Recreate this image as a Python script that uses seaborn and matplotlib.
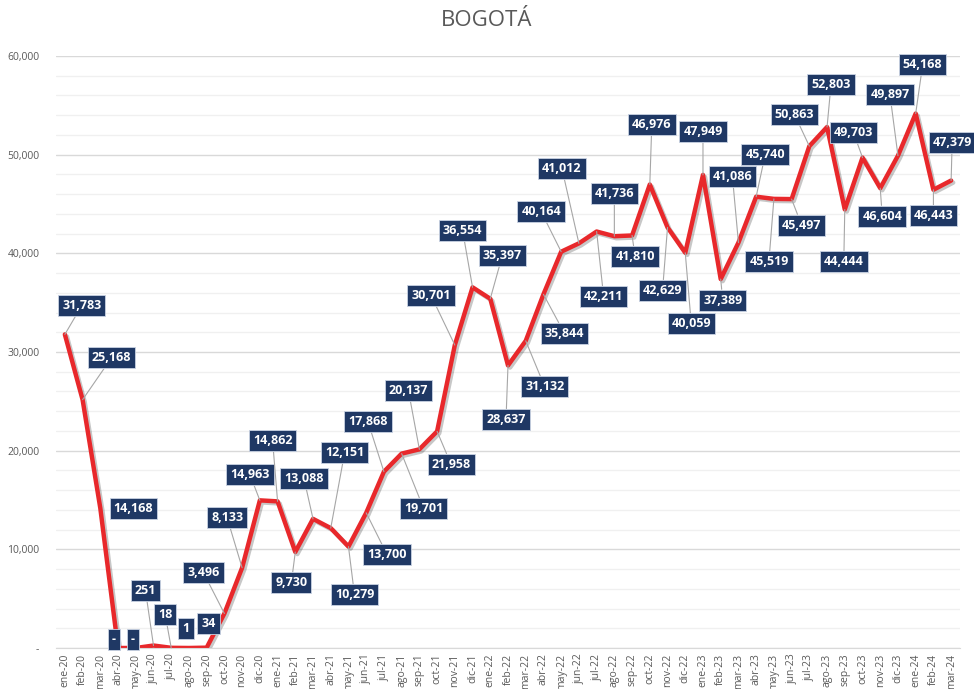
import numpy as np
import pandas as pd
import matplotlib
matplotlib.use("Agg")
import matplotlib.pyplot as plt
import matplotlib.patheffects as pe
from matplotlib.ticker import FuncFormatter, MultipleLocator
import seaborn as sns

months = ["ene-20", "feb-20", "mar-20", "abr-20", "may-20", "jun-20", "jul-20", "ago-20", "sep-20", "oct-20", "nov-20", "dic-20",
          "ene-21", "feb-21", "mar-21", "abr-21", "may-21", "jun-21", "jul-21", "ago-21", "sep-21", "oct-21", "nov-21", "dic-21",
          "ene-22", "feb-22", "mar-22", "abr-22", "may-22", "jun-22", "jul-22", "ago-22", "sep-22", "oct-22", "nov-22", "dic-22",
          "ene-23", "feb-23", "mar-23", "abr-23", "may-23", "jun-23", "jul-23", "ago-23", "sep-23", "oct-23", "nov-23", "dic-23",
          "ene-24", "feb-24", "mar-24"]
values = [31783, 25168, 14168, 0, 0, 251, 18, 1, 34, 3496, 8133, 14963,
          14862, 9730, 13088, 12151, 10279, 13700, 17868, 19701, 20137, 21958, 30701, 36554,
          35397, 28637, 31132, 35844, 40164, 41012, 42211, 41736, 41810, 46976, 42629, 40059,
          47949, 37389, 41086, 45740, 45519, 45497, 50863, 52803, 44444, 49703, 46604, 49897,
          54168, 46443, 47379]

# where each value box sits relative to its point (pixels)
label_offsets = [(17, 29), (29, 42), (33, 0), (-4, 9), (-3, 9), (-8, 55), (-6, 33), (-3, 19), (2, 24), (-21, 41),
                 (-15, 50), (-10, 26), (-5, 61), (-4, -31), (-9, 40), (14, 76), (6, -48), (21, -42), (-16, 50), (22, -55),
                 (-11, 59), (14, -33), (-24, 50), (-10, 57), (12, 43), (-2, -54), (19, -46), (21, -39), (-20, 40), (-17, 75),
                 (7, -65), (0, 43), (3, -21), (2, 60), (-5, -63), (6, -71), (0, 43), (2, -21), (-6, 66), (9, 42),
                 (-5, -63), (10, -26), (-15, 32), (4, 43), (-1, -52), (-9, 25), (2, -28), (-8, 61), (7, 49), (0, -26),
                 (1, 38)]
no_leader = {2, 3, 4, 7, 8}

df = pd.DataFrame({"mes": months, "valor": values})
df["pos"] = np.arange(len(df))

sns.set_style("white")
plt.rcParams['font.family'] = ['Open Sans', 'DejaVu Sans']

fig = plt.figure(figsize=(9.74, 6.89), dpi=100)
ax = fig.add_axes([56 / 974, 1 - 648 / 689, 904 / 974, 592 / 689])

ax.yaxis.set_major_locator(MultipleLocator(10000))
ax.yaxis.set_minor_locator(MultipleLocator(2000))
ax.grid(which="major", axis="y", color="#d9d9d9", lw=1)
ax.grid(which="minor", axis="y", color="#f0f0f0", lw=1)
ax.set_axisbelow(True)

sns.lineplot(data=df, x="pos", y="valor", ax=ax, color="#e8282b", lw=3.2,
             path_effects=[pe.SimpleLineShadow(offset=(1.5, -1.5), alpha=0.22), pe.Normal()])

for i, (v, (dx, dy)) in enumerate(zip(values, label_offsets)):
    txt = "-" if v == 0 else f"{v:,}"
    arrow = None if i in no_leader else dict(arrowstyle="-", color="#a6a6a6", lw=0.8, shrinkA=0, shrinkB=0)
    ax.annotate(txt, xy=(i, v), xytext=(dx, dy), textcoords="offset pixels",
                ha="center", va="center", fontsize=9, fontweight="bold", color="white",
                bbox=dict(boxstyle="square,pad=0.32", fc="#1f3864", ec="#c9d3e3", lw=0.6),
                arrowprops=arrow, zorder=5, annotation_clip=False)

ax.set_xlim(-0.5, len(months) - 0.5)
ax.set_ylim(0, 60000)
ax.set_xticks(df["pos"])
ax.set_xticklabels(months, rotation=90, fontsize=7.5, color="#595959")
ax.yaxis.set_major_formatter(FuncFormatter(lambda y, p: "-" if y == 0 else f"{int(y):,}"))
ax.tick_params(axis="y", labelsize=7.5, colors="#595959", length=0, pad=12)
ax.tick_params(axis="x", length=0, pad=4)
ax.set_xlabel("")
ax.set_ylabel("")
for s in ["top", "right", "left"]:
    ax.spines[s].set_visible(False)
ax.spines["bottom"].set_color("#d9d9d9")

fig.suptitle("BOGOTÁ", x=0.5, y=0.985, fontsize=16, color="#595959",
             family=["Liberation Sans Narrow", "Open Sans", "DejaVu Sans"])

fig.savefig("out.png", dpi=100)
